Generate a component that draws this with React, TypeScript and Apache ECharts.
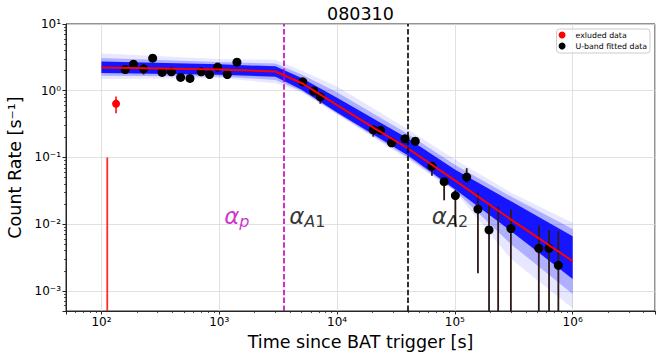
import { useEffect, useRef } from 'react';
import * as echarts from 'echarts';

// ---------- axis extents & ticks ----------
const X_MIN = 50;
const X_MAX = 5e6;
const Y_MIN = 5e-4;
const Y_MAX = 10;

const xTickValues = [1e2, 1e3, 1e4, 1e5, 1e6];
const xTickLabels = ['10²', '10³', '10⁴', '10⁵', '10⁶'];
const yTickValues = [1e-3, 1e-2, 1e-1, 1, 10];
const yTickLabels = ['10⁻³', '10⁻²', '10⁻¹', '10⁰', '10¹'];

const minorTicks = (lo: number, hi: number) => {
  const out: number[] = [];
  for (let e = -4; e <= 7; e++) {
    for (let m = 2; m <= 9; m++) {
      const v = m * Math.pow(10, e);
      if (v >= lo * 0.9999 && v <= hi * 1.0001) out.push(v);
    }
  }
  return out;
};
const xMinorTicks = minorTicks(X_MIN, X_MAX);
const yMinorTicks = minorTicks(Y_MIN, Y_MAX);

// ---------- data ----------
const excludedT = [133, 112];
const excludedV: (number | null)[] = [0.64, null];
const excludedLo = [0.46, 0];
const excludedHi = [0.82, 0.1];

const fittedT = [159, 187, 228, 272, 327, 392, 470, 564, 703, 827, 968, 1170, 1413,
  5115, 6340, 7210, 20300, 23400, 29000, 37700, 46100, 63900, 81100, 101000, 126000,
  157000, 195000, 233000, 299000, 516000, 630000, 756000];
const fittedV: (number | null)[] = [2.08, 2.5, 2.13, 3.08, 1.88, 1.92, 1.58, 1.53, 1.92, 1.75, 2.26, 1.75, 2.68,
  1.36, 0.99, 0.81, 0.259, 0.255, 0.166, 0.19, 0.175, 0.074, 0.0434, 0.0268, 0.0508,
  0.0168, 0.0082, null, 0.0086, 0.00434, 0.00434, 0.00242];
const fittedLo = [1.9, 2.3, 1.75, 2.85, 1.7, 1.76, 1.44, 1.4, 1.76, 1.6, 2.06, 1.6, 2.45,
  1.24, 0.9, 0.64, 0.205, 0.232, 0.151, 0.173, 0.159, 0.053, 0.0228, 0.0092, 0.042,
  0.00184, 0, 0, 0, 0, 0, 0];
const fittedHi = [2.28, 2.72, 2.45, 3.35, 2.06, 2.1, 1.73, 1.68, 2.1, 1.92, 2.48, 1.92, 2.93,
  1.49, 1.08, 0.95, 0.3, 0.28, 0.182, 0.208, 0.192, 0.085, 0.05, 0.0326, 0.069,
  0.0297, 0.0193, 0.0183, 0.0167, 0.0096, 0.0082, 0.0078];

// best-fit model (red line)
const fitT = [100, 1000, 3000, 5200, 10000, 21700, 38900, 100000, 300000, 1000000];
const fitV = [2.23, 2.08, 1.94, 1.26, 0.608, 0.262, 0.141, 0.0454, 0.0117, 0.0028];

// posterior band envelopes (blue)
const bandT = [100, 1000, 3000, 5000, 10000, 40000, 100000, 300000, 1000000];
const bandCoreUpper = [2.74, 2.49, 2.32, 1.55, 0.786, 0.192, 0.0662, 0.022, 0.0066];
const bandCoreLower = [1.84, 1.73, 1.62, 1.03, 0.47, 0.107, 0.0333, 0.00787, 0.00151];
const bandMidUpper = [3.1, 2.7, 2.55, 1.75, 0.95, 0.225, 0.078, 0.026, 0.0085];
const bandMidLower = [1.67, 1.64, 1.45, 0.99, 0.455, 0.1, 0.032, 0.005, 0.0009];
const bandOuterUpper = [3.6, 3.0, 2.9, 2.0, 1.16, 0.262, 0.093, 0.0297, 0.0105];
const bandOuterLower = [1.5, 1.55, 1.3, 0.95, 0.44, 0.093, 0.031, 0.003, 0.00055];

// break times (vertical dashed lines)
const breakTimes = [3500, 40000];
const breakColors = ['#bf00bf', '#000000'];

// slope annotations
const annotT = [1100, 3920, 63800];
const annotV = [0.01, 0.01, 0.01];
const annotText = ['{am|α}{sm|p}', '{a|α}{s|A}{n|1}', '{a|α}{s|A}{n|2}'];

// ---------- styling ----------
const FONT = 'DejaVu Sans';
const AXIS_COLOR = '#262626';
const ERR_COLOR = '#2e1818';

const labelFor = (vals: number[], labels: string[]) => (v: number) => {
  const i = vals.findIndex((t) => Math.abs(Math.log10(t) - Math.log10(v)) < 1e-6);
  return i >= 0 ? labels[i] : '';
};

const bandSeries = (name: string, upper: number[], lower: number[], fill: string) => ({
  name,
  type: 'custom',
  silent: true,
  data: [[bandT[0], upper[0]]],
  renderItem: (_p: any, api: any) => {
    const pts: number[][] = [];
    for (let i = 0; i < bandT.length; i++) pts.push(api.coord([bandT[i], upper[i]]));
    for (let i = bandT.length - 1; i >= 0; i--) pts.push(api.coord([bandT[i], lower[i]]));
    return { type: 'polygon', shape: { points: pts }, style: { fill } };
  },
});

const errSeries = (name: string, t: number[], lo: number[], hi: number[], color: string, width: number) => ({
  name,
  type: 'custom',
  silent: true,
  data: t.map((x, i) => [x, hi[i], lo[i]]),
  renderItem: (_p: any, api: any) => {
    const x = api.value(0);
    const h = api.value(1);
    const l = api.value(2);
    const top = api.coord([x, h]);
    const bottom = l > Y_MIN ? api.coord([x, l])[1] : api.coord([x, Y_MIN])[1];
    return {
      type: 'line',
      shape: { x1: top[0], y1: top[1], x2: top[0], y2: bottom },
      style: { stroke: color, lineWidth: width },
    };
  },
});

const minorAxisCommon = {
  type: 'log',
  logBase: 10,
  gridIndex: 0,
  axisLine: { show: false, onZero: false },
  axisLabel: { show: false },
  splitLine: { show: false },
};

const option: any = {
  animation: false,
  backgroundColor: '#ffffff',
  textStyle: { fontFamily: FONT },
  title: {
    text: '080310',
    left: 327,
    top: 4.5,
    padding: 0,
    textStyle: { fontFamily: FONT, fontSize: 17.5, fontWeight: 'normal', color: '#000' },
  },
  legend: {
    data: ['exluded data', 'U-band fitted data'],
    orient: 'vertical',
    right: 14,
    top: 29,
    icon: 'circle',
    itemWidth: 19,
    itemHeight: 7,
    itemGap: 3,
    padding: [2, 3, 3, 2],
    borderColor: '#cccccc',
    borderWidth: 1,
    borderRadius: 3,
    backgroundColor: 'rgba(255,255,255,0.8)',
    textStyle: { fontFamily: FONT, fontSize: 7.8, color: '#000', padding: [0, 0, 0, -1] },
  },
  grid: {
    left: 66,
    right: 9,
    top: 24,
    bottom: 47,
    containLabel: false,
    outerBoundsMode: 'none',
    show: true,
    borderColor: AXIS_COLOR,
    borderWidth: 1,
    backgroundColor: 'transparent',
  },
  xAxis: [
    {
      type: 'log',
      logBase: 10,
      min: X_MIN,
      max: X_MAX,
      position: 'bottom',
      axisLine: { show: true, onZero: false, lineStyle: { color: AXIS_COLOR, width: 1 } },
      axisTick: { show: true, length: 3.5, lineStyle: { color: AXIS_COLOR, width: 1 } },
      splitLine: { show: true, lineStyle: { color: '#d9d9d9', width: 0.8 } },
      axisLabel: {
        formatter: labelFor(xTickValues, xTickLabels),
        fontSize: 12,
        color: '#000',
        margin: 5,
        fontFamily: FONT,
        showMinLabel: true,
        showMaxLabel: true,
      },
      name: 'Time since BAT trigger [s]',
      nameLocation: 'middle',
      nameGap: 22,
      nameTextStyle: { fontFamily: FONT, fontSize: 17.5, color: '#000' },
    },
    {
      ...minorAxisCommon,
      min: X_MIN,
      max: X_MAX,
      position: 'bottom',
      axisTick: { show: true, length: 2, customValues: xMinorTicks, lineStyle: { color: AXIS_COLOR, width: 0.8 } },
    },
  ],
  yAxis: [
    {
      type: 'log',
      logBase: 10,
      min: Y_MIN,
      max: Y_MAX,
      position: 'left',
      axisLine: { show: true, onZero: false, lineStyle: { color: AXIS_COLOR, width: 1 } },
      axisTick: { show: true, length: 3.5, lineStyle: { color: AXIS_COLOR, width: 1 } },
      splitLine: { show: true, lineStyle: { color: '#d9d9d9', width: 0.8 } },
      axisLabel: {
        formatter: labelFor(yTickValues, yTickLabels),
        fontSize: 12,
        color: '#000',
        margin: 5,
        fontFamily: FONT,
        showMinLabel: true,
        showMaxLabel: true,
      },
      name: 'Count Rate [s⁻¹]',
      nameLocation: 'middle',
      nameGap: 40,
      nameTextStyle: { fontFamily: FONT, fontSize: 17.5, color: '#000' },
    },
    {
      ...minorAxisCommon,
      min: Y_MIN,
      max: Y_MAX,
      position: 'left',
      axisTick: { show: true, length: 2, customValues: yMinorTicks, lineStyle: { color: AXIS_COLOR, width: 0.8 } },
    },
  ],
  series: [
    bandSeries('bandOuter', bandOuterUpper, bandOuterLower, 'rgba(40,40,255,0.11)'),
    bandSeries('bandMid', bandMidUpper, bandMidLower, 'rgba(0,0,255,0.24)'),
    bandSeries('bandCore', bandCoreUpper, bandCoreLower, 'rgba(0,0,255,0.88)'),
    {
      name: 'best fit',
      type: 'line',
      data: fitT.map((t, i) => [t, fitV[i]]),
      symbol: 'none',
      lineStyle: { color: '#ff0000', width: 2 },
      silent: true,
    },
    errSeries('excludedErr', excludedT, excludedLo, excludedHi, '#ff2a2a', 1.8),
    errSeries('fittedErr', fittedT, fittedLo, fittedHi, ERR_COLOR, 1.8),
    {
      name: 'exluded data',
      type: 'scatter',
      symbol: 'circle',
      symbolSize: 8,
      itemStyle: { color: '#ff0000', opacity: 1 },
      data: excludedT.map((t, i) => [t, excludedV[i]]).filter((d) => d[1] !== null),
    },
    {
      name: 'U-band fitted data',
      type: 'scatter',
      symbol: 'circle',
      symbolSize: 9,
      itemStyle: { color: '#000000', opacity: 1 },
      data: fittedT.map((t, i) => [t, fittedV[i]]).filter((d) => d[1] !== null),
    },
    {
      name: 'annotations',
      type: 'scatter',
      symbolSize: 0,
      silent: true,
      data: annotT.map((t, i) => ({
        value: [t, annotV[i]],
        label: { formatter: annotText[i] },
      })),
      label: {
        show: true,
        position: [0, 5],
        align: 'left',
        verticalAlign: 'bottom',
        rich: {
          a: { fontFamily: FONT, fontSize: 23, fontStyle: 'italic', color: '#000', lineHeight: 26 },
          am: { fontFamily: FONT, fontSize: 23, fontStyle: 'italic', color: '#bf00bf', lineHeight: 26 },
          s: { fontFamily: FONT, fontSize: 16, fontStyle: 'italic', color: '#000', lineHeight: 16, verticalAlign: 'bottom' },
          n: { fontFamily: FONT, fontSize: 16, color: '#000', lineHeight: 16, verticalAlign: 'bottom' },
          sm: { fontFamily: FONT, fontSize: 16, fontStyle: 'italic', color: '#bf00bf', lineHeight: 16, verticalAlign: 'bottom' },
        },
      },
      markLine: {
        silent: true,
        symbol: 'none',
        label: { show: false },
        data: breakTimes.map((t, i) => ({
          xAxis: t,
          lineStyle: { color: breakColors[i], width: 1.6, type: [5.5, 2.4] },
        })),
      },
    },
  ],
};

export default function App() {
  const ref = useRef<HTMLDivElement>(null);
  useEffect(() => {
    const chart = echarts.init(ref.current!, null, { renderer: 'svg' });
    chart.setOption(option);
    return () => chart.dispose();
  }, []);
  return (
    <div
      ref={ref}
      style={{ position: 'fixed', left: 0, top: 0, width: 664, height: 358, background: '#fff' }}
    />
  );
}
